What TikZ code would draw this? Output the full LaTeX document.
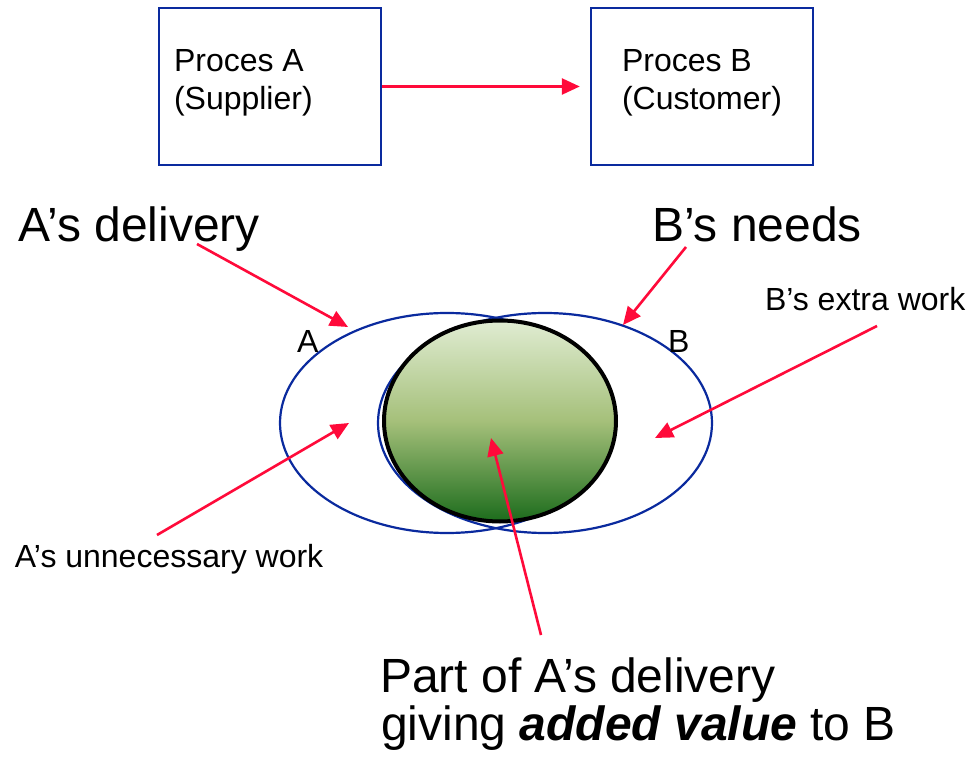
\documentclass[tikz,border=0pt]{standalone}
\usepackage{fontspec}
\setmainfont{Liberation Sans}
\usetikzlibrary{arrows.meta,shapes.geometric}
\definecolor{arrred}{HTML}{FF0A3A}
\definecolor{lineblue}{HTML}{0A2A9E}
\definecolor{gtop}{RGB}{224,236,210}
\definecolor{gmid}{RGB}{165,192,122}
\definecolor{gbot}{RGB}{28,108,28}
\tikzset{
  arr/.style={draw=arrred, line width=2.6pt, -{Triangle[length=18pt,width=16pt]}},
  procbox/.style={draw=lineblue, line width=2.4pt, minimum width=222pt, minimum height=157pt, inner sep=0pt},
  setoval/.style={ellipse, draw=lineblue, line width=2.2pt, minimum width=334pt, minimum height=220pt, inner sep=0pt},
  small/.style={anchor=base west, inner sep=0pt, outer sep=0pt, font=\fontsize{32}{38}\selectfont},
  big/.style={anchor=base west, inner sep=0pt, outer sep=0pt, font=\fontsize{48}{48}\selectfont},
}
\begin{document}
\begin{tikzpicture}[x=1pt,y=-1pt]
\useasboundingbox[fill=white] (0,0) rectangle (970,759);
% process boxes
\node[procbox] (pa) at (270,86.5) {};
\node[procbox] (pb) at (702,86.5) {};
\node[small] (pa1) at (174,72) {Proces A};
\node[small] (pa2) at (174,110) {(Supplier)};
\node[small] (pb1) at (622,72) {Proces B};
\node[small] (pb2) at (622,110) {(Customer)};
\draw[arr, shorten >=10pt] (pa.east) -- (pb.west);
% sets
\node[setoval] (ea) at (447,423) {};
\node[setoval] (eb) at (545,423) {};
\node[ellipse, draw=black, line width=4pt, minimum width=232pt, minimum height=201pt, inner sep=0pt,
      top color=gtop, bottom color=gbot, middle color=gmid] (gv) at (500,421) {};
\node[small] (la) at (297,353) {A};
\node[small] (lb) at (668,353) {B};
% labels
\node[big] (tdel) at (19,242) {A’s delivery};
\node[big] (tneed) at (652,242) {B’s needs};
\node[small] (textra) at (765,311) {B’s extra work};
\node[small] (tunn) at (15,567) {A’s unnecessary work};
\node[big] (tpart1) at (380,692) {Part of A’s delivery};
\node[big] (tpart2) at (381,740) {giving \textbf{\textit{added value}} to B};
% arrow end points
\coordinate (s1) at (197,244);
\coordinate (e1) at (348,327);
\coordinate (s2) at (686,247);
\coordinate (e2) at (623,325);
\coordinate (s3) at (877,326);
\coordinate (e3) at (655,438);
\coordinate (s4) at (157,535);
\coordinate (e4) at (349,423);
\coordinate (s5) at (541,635);
\coordinate (e5) at (491,438);
\draw[arr] (s1) -- (e1);
\draw[arr] (s2) -- (e2);
\draw[arr] (s3) -- (e3);
\draw[arr] (s4) -- (e4);
\draw[arr] (s5) -- (e5);
\end{tikzpicture}
\end{document}
